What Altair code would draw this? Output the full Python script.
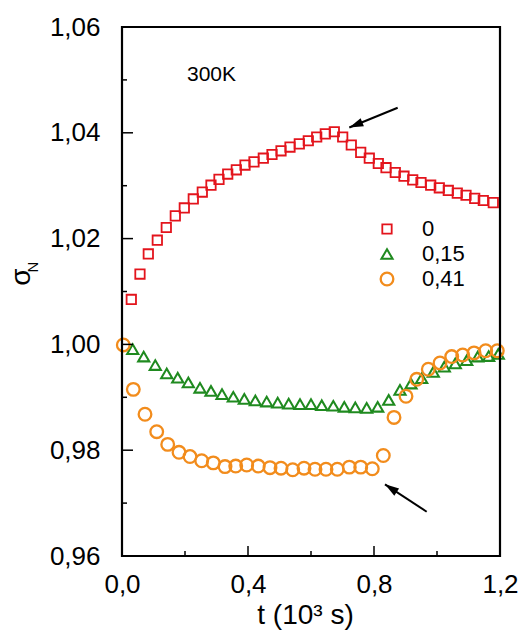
import math
import altair as alt
import pandas as pd

# ---------------- data ----------------
series_names = ["0", "0,15", "0,41"]

t_0 = [0.0295, 0.0571, 0.0835, 0.1121, 0.1406, 0.1692, 0.1978, 0.2263, 0.2549, 0.2825,
       0.3079, 0.3356, 0.3629, 0.3905, 0.4190, 0.4486, 0.4762, 0.5048, 0.5333, 0.5629,
       0.5914, 0.6181, 0.6454, 0.6740, 0.7006, 0.7279, 0.7578, 0.7851, 0.8137, 0.8381,
       0.8676, 0.8952, 0.9229, 0.9492, 0.9800, 1.0073, 1.0359, 1.0644, 1.0921, 1.1197,
       1.1470, 1.1787]
s_0 = [1.0085, 1.0133, 1.0171, 1.0197, 1.0221, 1.0243, 1.0258, 1.0275, 1.0288, 1.0301,
       1.0312, 1.0322, 1.0330, 1.0339, 1.0345, 1.0352, 1.0359, 1.0366, 1.0373, 1.0379,
       1.0385, 1.0392, 1.0398, 1.0402, 1.0392, 1.0377, 1.0363, 1.0352, 1.0342, 1.0334,
       1.0325, 1.0318, 1.0311, 1.0306, 1.0301, 1.0296, 1.0291, 1.0286, 1.0282, 1.0276,
       1.0272, 1.0268]

t_15 = [0.0340, 0.0689, 0.1057, 0.1419, 0.1768, 0.2105, 0.2476, 0.2825, 0.3175, 0.3533,
        0.3883, 0.4232, 0.4594, 0.4943, 0.5292, 0.5651, 0.6000, 0.6340, 0.6708, 0.7057,
        0.7406, 0.7768, 0.8117, 0.8467, 0.8825, 0.9175, 0.9514, 0.9883, 1.0232, 1.0581,
        1.0943, 1.1292, 1.1641, 1.1946]
s_15 = [0.9991, 0.9977, 0.9961, 0.9945, 0.9937, 0.9928, 0.9918, 0.9912, 0.9906, 0.9901,
        0.9897, 0.9894, 0.9892, 0.9890, 0.9888, 0.9887, 0.9887, 0.9885, 0.9884, 0.9882,
        0.9881, 0.9880, 0.9882, 0.9895, 0.9914, 0.9926, 0.9936, 0.9948, 0.9958, 0.9964,
        0.9970, 0.9977, 0.9978, 0.9982]

t_41 = [0.0041, 0.0359, 0.0730, 0.1102, 0.1451, 0.1810, 0.2159, 0.2530, 0.2898, 0.3270,
        0.3610, 0.3959, 0.4327, 0.4698, 0.5048, 0.5419, 0.5778, 0.6127, 0.6476, 0.6835,
        0.7216, 0.7578, 0.7946, 0.8295, 0.8635, 0.9016, 0.9356, 0.9724, 1.0095, 1.0467,
        1.0816, 1.1175, 1.1546, 1.1914]
s_41 = [0.9999, 0.9915, 0.9868, 0.9835, 0.9811, 0.9796, 0.9788, 0.9780, 0.9776, 0.9769,
        0.9770, 0.9772, 0.9770, 0.9767, 0.9766, 0.9763, 0.9766, 0.9764, 0.9764, 0.9764,
        0.9768, 0.9768, 0.9765, 0.9790, 0.9862, 0.9902, 0.9934, 0.9953, 0.9965, 0.9977,
        0.9980, 0.9984, 0.9988, 0.9988]

x_major = [0.0, 0.4, 0.8, 1.2]
x_minor = [0.2, 0.6, 1.0]
y_major = [0.96, 0.98, 1.00, 1.02, 1.04, 1.06]
y_minor = [0.97, 0.99, 1.01, 1.03, 1.05]

annotation_text = ["300K"]
# arrows: tail -> tip, in data units
arrow_t_tail = [0.8752, 0.9673]
arrow_s_tail = [1.04474, 0.96837]
arrow_t_tip = [0.7216, 0.8349]
arrow_s_tip = [1.04100, 0.97355]

# ---------------- styling ----------------
colors = ["#e3141c", "#1f8a1f", "#f28c1c"]
shapes = ["square", "triangle-up", "circle"]
sizes = [88, 160, 66]
strokes = [1.8, 2.3, 2.7]
FONT = "Liberation Sans"
W, H = 378, 529

rows = []
for name, ts, ss in zip(series_names, [t_0, t_15, t_41], [s_0, s_15, s_41]):
    for t, s in zip(ts, ss):
        rows.append({"t": t, "s": s, "x": name})
df = pd.DataFrame(rows)

xs = alt.Scale(domain=[0, 1.2], nice=False, zero=False)
ys = alt.Scale(domain=[0.96, 1.06], nice=False, zero=False)

x_axis = alt.Axis(
    values=x_major, ticks=False, tickSize=0, domain=False, grid=False,
    labelExpr="replace(format(datum.value, '.1f'), '.', ',')",
    labelFontSize=26, labelPadding=15, labelFlush=False,
    title="t (10³ s)", titleFontSize=28, titleFontWeight="normal",
    titleBaseline="alphabetic", titleY=67, titleX=183, titleAlign="center")
y_axis = alt.Axis(
    values=y_major, ticks=False, tickSize=0, domain=False, grid=False,
    labelExpr="replace(format(datum.value, '.2f'), '.', ',')",
    labelFontSize=26, labelPadding=22, labelFlush=False, title="")

legend = alt.Legend(orient="none", legendX=254, legendY=191, title=None,
                    labelFont=FONT, labelFontSize=22, labelColor="black",
                    symbolStrokeWidth=3.2, symbolSize=70, rowPadding=3,
                    labelOffset=24, padding=0)

points = alt.Chart(df).mark_point(filled=False, clip=False, opacity=1).encode(
    x=alt.X("t:Q", scale=xs, axis=x_axis),
    y=alt.Y("s:Q", scale=ys, axis=y_axis),
    color=alt.Color("x:N", scale=alt.Scale(domain=series_names, range=colors), legend=legend),
    shape=alt.Shape("x:N", scale=alt.Scale(domain=series_names, range=shapes), legend=legend),
    size=alt.Size("x:N", scale=alt.Scale(domain=series_names, range=sizes), legend=None),
    strokeWidth=alt.StrokeWidth("x:N", scale=alt.Scale(domain=series_names, range=strokes), legend=None),
)

frame = alt.Chart(pd.DataFrame({"k": [0]})).mark_rect(
    fill=None, filled=False, stroke="black", strokeWidth=2.2).encode(
    x=alt.value(0), x2=alt.value(W), y=alt.value(0), y2=alt.value(H))

ymaj = alt.Chart(pd.DataFrame({"v": y_major})).mark_rule(color="black", strokeWidth=1.5).encode(
    y=alt.Y("v:Q", scale=ys, axis=y_axis), x=alt.value(0), x2=alt.value(11))
ymin = alt.Chart(pd.DataFrame({"v": y_minor})).mark_rule(color="black", strokeWidth=1.5).encode(
    y=alt.Y("v:Q", scale=ys, axis=y_axis), x=alt.value(0), x2=alt.value(5))
xmaj = alt.Chart(pd.DataFrame({"v": x_major})).mark_rule(color="black", strokeWidth=1.5).encode(
    x=alt.X("v:Q", scale=xs, axis=x_axis), y=alt.value(H), y2=alt.value(H - 10))
xmin = alt.Chart(pd.DataFrame({"v": x_minor})).mark_rule(color="black", strokeWidth=1.5).encode(
    x=alt.X("v:Q", scale=xs, axis=x_axis), y=alt.value(H), y2=alt.value(H - 5))

# arrows
px_x = W / 1.2
px_y = H / 0.1
angles = []
for a, b, c, d in zip(arrow_t_tail, arrow_s_tail, arrow_t_tip, arrow_s_tip):
    dx = (c - a) * px_x
    dy = -(d - b) * px_y
    angles.append(math.degrees(math.atan2(dx, -dy)) % 360)
arr_df = pd.DataFrame({"t0": arrow_t_tail, "s0": arrow_s_tail,
                       "t1": arrow_t_tip, "s1": arrow_s_tip, "ang": angles})
arrow_lines = alt.Chart(arr_df).mark_rule(color="black", strokeWidth=2).encode(
    x=alt.X("t0:Q", scale=xs, axis=x_axis), y=alt.Y("s0:Q", scale=ys, axis=y_axis),
    x2="t1:Q", y2="s1:Q")
arrow_heads = alt.Chart(arr_df).mark_point(
    shape="M0,0L-0.62,2L0.62,2Z", filled=True, color="black", size=196, opacity=1,
    strokeWidth=0).encode(
    x=alt.X("t1:Q", scale=xs, axis=x_axis), y=alt.Y("s1:Q", scale=ys, axis=y_axis),
    angle=alt.Angle("ang:Q", scale=None))

label_300 = alt.Chart(pd.DataFrame({"txt": annotation_text})).mark_text(
    align="left", baseline="alphabetic", font=FONT, fontSize=21, color="black").encode(
    text="txt:N", x=alt.value(65), y=alt.value(54))

sigma = alt.Chart(pd.DataFrame({"txt": ["σ"]})).mark_text(
    align="center", baseline="middle", font=FONT, fontSize=28, color="black").encode(
    text="txt:N", x=alt.value(-100), y=alt.value(250), angle=alt.value(270))
sub_n = alt.Chart(pd.DataFrame({"txt": ["N"]})).mark_text(
    align="center", baseline="middle", font=FONT, fontSize=15, color="black").encode(
    text="txt:N", x=alt.value(-89), y=alt.value(240), angle=alt.value(270))

chart = alt.layer(
    points, frame, ymaj, ymin, xmaj, xmin, arrow_lines, arrow_heads, label_300, sigma, sub_n
).properties(
    width=W, height=H,
    autosize=alt.AutoSizeParams(type="none"),
    padding={"left": 122, "top": 27, "right": 23, "bottom": 76},
).configure_view(
    strokeWidth=0
).configure_axis(
    labelFont=FONT, titleFont=FONT, labelColor="black", titleColor="black"
).configure(background="white")

chart.save("out.html", embed_options={"renderer": "svg", "actions": False})
